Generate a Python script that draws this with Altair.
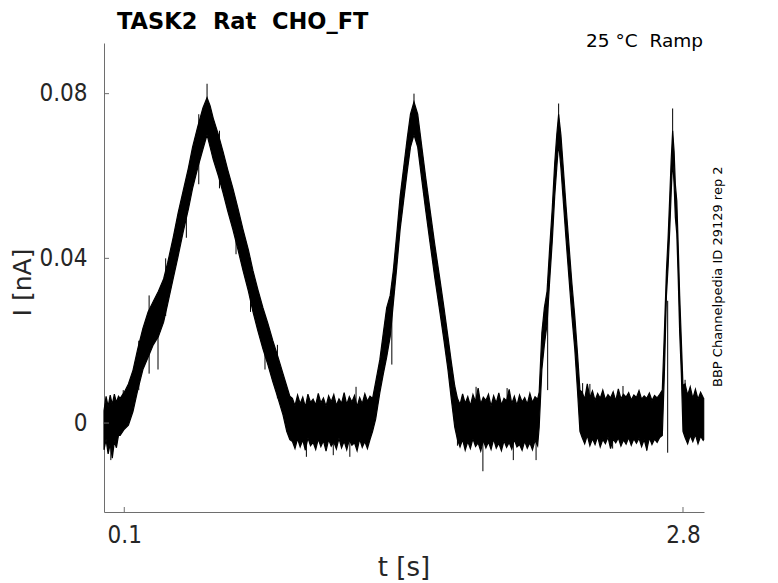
import altair as alt
import pandas as pd

# ---------------- data ----------------
# core envelope of the noisy current trace: time [s], lower / upper edge [nA]
env_t = [0.002, 0.012, 0.022, 0.032, 0.042, 0.052, 0.062, 0.072,
         0.08, 0.10, 0.12, 0.142, 0.165, 0.19, 0.215, 0.24, 0.265, 0.29, 0.31, 0.336,
         0.36, 0.385, 0.41, 0.43, 0.455, 0.48, 0.50, 0.515, 0.53, 0.555, 0.577, 0.60,
         0.625, 0.65, 0.674, 0.70, 0.722, 0.745, 0.77, 0.795, 0.818, 0.843, 0.867,
         0.885, 0.90]
env_lo = [-0.0065, -0.004, -0.0075, -0.005, -0.0085, -0.0045, -0.006, -0.003,
          -0.003, -0.0015, -0.0005, 0.0028, 0.008, 0.013, 0.016, 0.019, 0.021, 0.0245, 0.029, 0.035,
          0.0405, 0.0465, 0.052, 0.057, 0.062, 0.0665, 0.070, 0.067, 0.064, 0.060, 0.056, 0.0515,
          0.047, 0.042, 0.037, 0.032, 0.027, 0.0225, 0.018, 0.014, 0.010, 0.006, 0.002,
          -0.002, -0.004]
env_hi = [0.003, 0.0065, 0.004, 0.0068, 0.0045, 0.007, 0.005, 0.0065,
          0.006, 0.0075, 0.0095, 0.0128, 0.018, 0.023, 0.027, 0.0295, 0.032, 0.035, 0.039, 0.045,
          0.051, 0.0565, 0.062, 0.067, 0.072, 0.0765, 0.079, 0.077, 0.074, 0.070, 0.066, 0.0615,
          0.057, 0.052, 0.047, 0.042, 0.037, 0.0325, 0.028, 0.024, 0.020, 0.016, 0.012,
          0.009, 0.0065]

# baseline 2 (0.9125 .. 1.30 s)
b2_t = [0.9125, 0.925, 0.9375, 0.95, 0.9625, 0.975, 0.9875, 1.0, 1.0125, 1.025, 1.0375,
        1.05, 1.0625, 1.075, 1.0875, 1.1, 1.1125, 1.125, 1.1375, 1.15, 1.1625, 1.175,
        1.1875, 1.2, 1.2125, 1.225, 1.2375, 1.25, 1.2625, 1.275, 1.2875, 1.30]
b2_hi = [0.006, 0.0042, 0.0068, 0.0047, 0.0063, 0.0039, 0.007, 0.005, 0.0058, 0.0044, 0.0072,
         0.0049, 0.0061, 0.0041, 0.0066, 0.0052, 0.0069, 0.0043, 0.0059, 0.0048, 0.0074, 0.0045,
         0.0064, 0.0051, 0.0067, 0.004, 0.0062, 0.0047, 0.0071, 0.0053, 0.0065, 0.006]
b2_lo = [-0.0045, -0.0062, -0.0038, -0.0058, -0.0041, -0.0066, -0.0036, -0.0055, -0.0047, -0.0064,
         -0.0039, -0.0057, -0.0043, -0.0068, -0.004, -0.0056, -0.0046, -0.0063, -0.0037, -0.006,
         -0.0044, -0.0065, -0.0041, -0.0054, -0.0048, -0.0067, -0.0039, -0.0059, -0.0045, -0.0062,
         -0.004, -0.002]

# ramp 2
r2_t = [1.315, 1.335, 1.352, 1.368, 1.385, 1.40, 1.417, 1.433, 1.45, 1.467, 1.483, 1.50,
        1.518, 1.538, 1.557, 1.577, 1.60, 1.625, 1.645, 1.664, 1.68, 1.697, 1.71]
r2_lo = [0.001, 0.0074, 0.012, 0.016, 0.021, 0.029, 0.038, 0.047, 0.054, 0.061, 0.067, 0.070,
         0.067, 0.059, 0.0515, 0.044, 0.0355, 0.027, 0.020, 0.013, 0.006, -0.001, -0.004]
r2_hi = [0.010, 0.0154, 0.022, 0.028, 0.031, 0.037, 0.046, 0.055, 0.062, 0.069, 0.075, 0.078,
         0.075, 0.067, 0.0595, 0.052, 0.0435, 0.035, 0.028, 0.021, 0.015, 0.009, 0.006]

# baseline 3 (1.7225 .. 2.0975 s)
b3_t = [1.7225, 1.735, 1.7475, 1.76, 1.7725, 1.785, 1.7975, 1.81, 1.8225, 1.835, 1.8475,
        1.86, 1.8725, 1.885, 1.8975, 1.91, 1.9225, 1.935, 1.9475, 1.96, 1.9725, 1.985,
        1.9975, 2.01, 2.0225, 2.035, 2.0475, 2.06, 2.0725, 2.085, 2.0975]
b3_hi = [0.0045, 0.0071, 0.0048, 0.0064, 0.0042, 0.0069, 0.0052, 0.0085, 0.0046, 0.0063, 0.0055,
         0.007, 0.0041, 0.0066, 0.0049, 0.0073, 0.0044, 0.006, 0.0054, 0.0082, 0.0047, 0.0065,
         0.0043, 0.0068, 0.0051, 0.0062, 0.0046, 0.0072, 0.005, 0.0064, 0.0058]
b3_lo = [-0.0058, -0.004, -0.0066, -0.0045, -0.0062, -0.0038, -0.0057, -0.0048, -0.0068, -0.0042,
         -0.006, -0.0046, -0.0064, -0.0039, -0.0061, -0.0049, -0.0067, -0.0043, -0.0059, -0.0047,
         -0.0063, -0.004, -0.0058, -0.0052, -0.0066, -0.0044, -0.0061, -0.0048, -0.0065, -0.0042,
         -0.0055]

# ramp 3
r3_t = [2.105, 2.118, 2.13, 2.143, 2.155, 2.168, 2.18, 2.19, 2.199, 2.21, 2.22, 2.235, 2.25,
        2.263, 2.277, 2.29, 2.302]
r3_lo = [-0.001, 0.013, 0.019, 0.024, 0.034, 0.044, 0.055, 0.062, 0.068, 0.062, 0.055, 0.0445,
         0.0346, 0.026, 0.018, 0.008, -0.002]
r3_hi = [0.0075, 0.022, 0.028, 0.032, 0.042, 0.052, 0.063, 0.070, 0.075, 0.070, 0.063, 0.0525,
         0.0426, 0.034, 0.026, 0.017, 0.008]

# baseline 4 (2.3125 .. 2.6875 s)
b4_t = [2.3125, 2.325, 2.3375, 2.35, 2.3625, 2.375, 2.3875, 2.4, 2.4125, 2.425, 2.4375,
        2.45, 2.4625, 2.475, 2.4875, 2.5, 2.5125, 2.525, 2.5375, 2.55, 2.5625, 2.575,
        2.5875, 2.6, 2.6125, 2.625, 2.6375, 2.65, 2.6625, 2.675, 2.6875]
b4_hi = [0.0075, 0.0058, 0.0095, 0.0062, 0.0078, 0.0055, 0.0072, 0.006, 0.008, 0.0057, 0.0069,
         0.0061, 0.0076, 0.0054, 0.0083, 0.0059, 0.007, 0.0063, 0.0074, 0.0056, 0.0068, 0.0062,
         0.0079, 0.0058, 0.0066, 0.006, 0.0073, 0.0055, 0.0067, 0.0061, 0.007]
b4_lo = [-0.0035, -0.005, -0.003, -0.0055, -0.0038, -0.0052, -0.0033, -0.0058, -0.004, -0.005,
         -0.0034, -0.0062, -0.0039, -0.0048, -0.0036, -0.0056, -0.0041, -0.0051, -0.0035, -0.0054,
         -0.0038, -0.0049, -0.0037, -0.0057, -0.004, -0.0065, -0.0036, -0.0052, -0.0039, -0.0047,
         -0.0035]

# ramp 4
r4_t = [2.70, 2.71, 2.72, 2.728, 2.736, 2.743, 2.75, 2.757, 2.763, 2.77, 2.777, 2.784, 2.792, 2.80]
r4_lo = [-0.003, 0.012, 0.031, 0.038, 0.047, 0.056, 0.064, 0.058, 0.050, 0.046, 0.035, 0.022, 0.012, -0.002]
r4_hi = [0.008, 0.022, 0.037, 0.045, 0.055, 0.064, 0.071, 0.066, 0.058, 0.054, 0.043, 0.031, 0.020, 0.009]

# baseline 5
b5_t = [2.81, 2.8225, 2.835, 2.8475, 2.86, 2.8725, 2.885, 2.8975, 2.9]
b5_hi = [0.0095, 0.0068, 0.0088, 0.006, 0.0082, 0.0058, 0.0075, 0.0062, 0.006]
b5_lo = [-0.0035, -0.005, -0.003, -0.0045, -0.0028, -0.005, -0.0032, -0.0042, -0.004]

# isolated spikes / notches of the trace: time, lower end, upper end
spike_t = [0.5, 1.5, 2.199, 2.75, 0.263, 1.393, 2.146, 2.726,
           0.035, 0.98, 1.11, 1.19, 1.833, 1.98, 2.09, 2.46, 2.625, 1.71,
           1.22, 1.80, 1.95, 2.315, 2.35, 2.51, 2.81, 0.095,
           0.17, 0.22, 0.30, 0.40, 0.46, 0.56, 0.64, 0.71, 0.78, 0.84]
spike_lo = [0.072, 0.072, 0.070, 0.066, 0.013, 0.0142, 0.008, -0.0072,
            -0.009, -0.0082, -0.0078, -0.0082, -0.0117, -0.009, -0.009, -0.0062, -0.0068, -0.0055,
            0.003, 0.003, 0.003, 0.003, 0.003, 0.003, 0.003, 0.003,
            0.008, 0.012, 0.026, 0.045, 0.058, 0.057, 0.041, 0.027, 0.013, 0.006]
spike_hi = [0.0824, 0.080, 0.0776, 0.0764, 0.027, 0.030, 0.030, 0.0297,
            -0.004, -0.004, -0.004, -0.004, -0.004, -0.004, -0.004, -0.003, -0.003, -0.003,
            0.0088, 0.0088, 0.0085, 0.0097, 0.0095, 0.009, 0.0105, 0.008,
            0.020, 0.031, 0.040, 0.058, 0.075, 0.071, 0.053, 0.040, 0.026, 0.019]

x_ticks = [0.1, 2.8]
y_ticks = [0, 0.04, 0.08]

NB = "\u00a0"  # keeps the double spaces of the original labels
title_text = "TASK2" + NB + NB + "Rat" + NB + NB + "CHO_FT"
cond_text = "25 °C" + NB + NB + "Ramp"
side_text = "BBP Channelpedia ID 29129 rep 2"
x_title = "t [s]"
y_title = "I [nA]"

# ---------------- build tables ----------------
T = env_t + b2_t + r2_t + b3_t + r3_t + b4_t + r4_t + b5_t
LO = env_lo + b2_lo + r2_lo + b3_lo + r3_lo + b4_lo + r4_lo + b5_lo
HI = env_hi + b2_hi + r2_hi + b3_hi + r3_hi + b4_hi + r4_hi + b5_hi
trace = pd.DataFrame({"t": T, "lo": LO, "hi": HI})
spikes = pd.DataFrame({"t": spike_t, "lo": spike_lo, "hi": spike_hi})

W, H = 600, 469
XDOM = [0.002, 2.9015]
YDOM = [-0.0216, 0.0923]
TXT = "#262626"
AX = "#6e6e6e"
FONT = "DejaVu Sans"
TICKFONT = "DejaVu Sans Condensed, DejaVu Sans"

xs = alt.Scale(domain=XDOM, nice=False, zero=False)
ys = alt.Scale(domain=YDOM, nice=False, zero=False)

x_axis = alt.Axis(values=x_ticks, format=".1f", ticks=False, grid=False, title=None,
                  domainColor=AX, domainWidth=1, labelColor=TXT, labelFontSize=24,
                  labelFont=TICKFONT, labelPadding=11)
y_axis = alt.Axis(values=y_ticks, format=".2~f", ticks=False, grid=False, title=None,
                  domainColor=AX, domainWidth=1, labelColor=TXT, labelFontSize=24,
                  labelFont=TICKFONT, labelPadding=17)

band = alt.Chart(trace).mark_area(color="black", stroke="black", strokeWidth=1.2,
                                  interpolate="linear", orient="vertical").encode(
    x=alt.X("t:Q", scale=xs, axis=x_axis),
    y=alt.Y("lo:Q", scale=ys, axis=y_axis),
    y2="hi:Q",
)

spk = alt.Chart(spikes).mark_rule(color="black", strokeWidth=1).encode(
    x=alt.X("t:Q", scale=xs),
    y=alt.Y("lo:Q", scale=ys),
    y2="hi:Q",
)

ytk = alt.Chart(pd.DataFrame({"v": y_ticks})).mark_rule(color=AX, strokeWidth=1).encode(
    y=alt.Y("v:Q", scale=ys), x=alt.value(0), x2=alt.value(5))
xtk = alt.Chart(pd.DataFrame({"v": x_ticks})).mark_rule(color=AX, strokeWidth=1).encode(
    x=alt.X("v:Q", scale=xs), y=alt.value(H), y2=alt.value(H - 5))


def label(txt, x, y, size, **kw):
    return alt.Chart(pd.DataFrame({"s": [txt]})).mark_text(
        fontSize=size, font=FONT, color=kw.pop("color", TXT), **kw
    ).encode(text="s:N", x=alt.value(x), y=alt.value(y))


t_title = label(title_text, 13, -14.5, 22.5, fontWeight="bold", align="left",
                baseline="alphabetic", color="black")
t_cond = label(cond_text, 599, 4, 18.5, align="right", baseline="alphabetic", color="black")
t_side = label(side_text, 617.7, 233.7, 13, angle=270, align="center",
               baseline="alphabetic", color="black")
t_x = label(x_title, 300, 533, 26, align="center", baseline="alphabetic")
t_y = label(y_title, -73, 239.5, 25, angle=270, align="center", baseline="alphabetic")

chart = alt.layer(band, spk, ytk, xtk, t_title, t_cond, t_side, t_x, t_y).properties(
    width=W, height=H,
    autosize=alt.AutoSizeParams(type="none"),
    padding={"left": 96, "top": 35, "right": 66, "bottom": 71},
    background="white",
).configure_view(strokeWidth=0, stroke="transparent")

chart.save("out.html", embed_options={"renderer": "svg", "actions": False})
